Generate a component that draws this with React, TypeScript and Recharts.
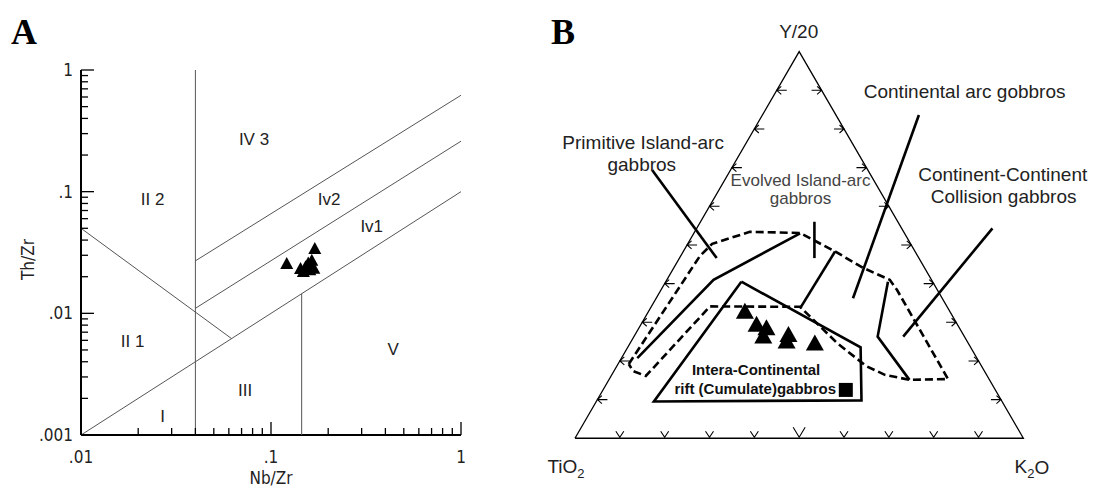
import React from "react";
import { ScatterChart, Scatter, XAxis, YAxis } from "recharts";

type Pt = { x: number; y: number };
type Tag = { x: number; y: number; text: string };

const SANS = "'Liberation Sans', Arial, Helvetica, sans-serif";
const NARROW = "'Liberation Sans Narrow', 'Arial Narrow', 'DejaVu Sans Condensed', 'Liberation Sans', sans-serif";
const SERIF = "'Liberation Serif', 'Times New Roman', serif";

// ---------- Panel A: Th/Zr vs Nb/Zr (log-log) ----------
const nbZrTicks = [
    0.01, 0.02, 0.03, 0.04, 0.05, 0.06, 0.07, 0.08, 0.09,
    0.1, 0.2, 0.3, 0.4, 0.5, 0.6, 0.7, 0.8, 0.9, 1,
];
const thZrTicks = [
    0.001, 0.002, 0.003, 0.004, 0.005, 0.006, 0.007, 0.008, 0.009,
    0.01, 0.02, 0.03, 0.04, 0.05, 0.06, 0.07, 0.08, 0.09,
    0.1, 0.2, 0.3, 0.4, 0.5, 0.6, 0.7, 0.8, 0.9, 1,
];
const decadeText: Record<string, string> = { "0.001": ".001", "0.01": ".01", "0.1": ".1", "1": "1" };

const boundLow: Pt[] = [{ x: 0.01, y: 0.001 }, { x: 1, y: 0.1 }];
const boundMid: Pt[] = [{ x: 0.04, y: 0.011 }, { x: 1, y: 0.26 }];
const boundHigh: Pt[] = [{ x: 0.04, y: 0.027 }, { x: 1, y: 0.62 }];
const boundVertLeft: Pt[] = [{ x: 0.04, y: 0.001 }, { x: 0.04, y: 1 }];
const boundVertRight: Pt[] = [{ x: 0.145, y: 0.001 }, { x: 0.145, y: 0.0145 }];
const boundSlant: Pt[] = [{ x: 0.01, y: 0.05 }, { x: 0.062, y: 0.0062 }];

const samplesA: Pt[] = [
    { x: 0.121, y: 0.025 },
    { x: 0.143, y: 0.0227 },
    { x: 0.148, y: 0.0215 },
    { x: 0.152, y: 0.0235 },
    { x: 0.157, y: 0.0252 },
    { x: 0.16, y: 0.0222 },
    { x: 0.164, y: 0.0265 },
    { x: 0.168, y: 0.0228 },
    { x: 0.17, y: 0.0332 },
];

const fieldsA: Tag[] = [
    { x: 0.0814, y: 0.266, text: "IV 3" },
    { x: 0.0238, y: 0.0865, text: "II 2" },
    { x: 0.202, y: 0.0855, text: "Iv2" },
    { x: 0.339, y: 0.0515, text: "Iv1" },
    { x: 0.0187, y: 0.00585, text: "II 1" },
    { x: 0.44, y: 0.005, text: "V" },
    { x: 0.073, y: 0.00234, text: "III" },
    { x: 0.0269, y: 0.00141, text: "I" },
];

// ---------- Panel B: TiO2 - Y/20 - K2O ternary (plane coords, triangle 0..100) ----------
const triangleB: Pt[] = [{ x: 0, y: 0 }, { x: 100, y: 0 }, { x: 50, y: 100 }, { x: 0, y: 0 }];

const edgeLeftB: Pt[] = [
    { x: 5, y: 10 }, { x: 10, y: 20 }, { x: 15, y: 30 }, { x: 20, y: 40 }, { x: 25, y: 50 },
    { x: 30, y: 60 }, { x: 35, y: 70 }, { x: 40, y: 80 }, { x: 45, y: 90 },
];
const edgeRightB: Pt[] = [
    { x: 95, y: 10 }, { x: 90, y: 20 }, { x: 85, y: 30 }, { x: 80, y: 40 }, { x: 75, y: 50 },
    { x: 70, y: 60 }, { x: 65, y: 70 }, { x: 60, y: 80 }, { x: 55, y: 90 },
];
const edgeBaseB: Pt[] = [
    { x: 10, y: 0 }, { x: 20, y: 0 }, { x: 30, y: 0 }, { x: 40, y: 0 }, { x: 50, y: 0 },
    { x: 60, y: 0 }, { x: 70, y: 0 }, { x: 80, y: 0 }, { x: 90, y: 0 },
];

const arcFieldDashed: Pt[] = [
    { x: 12.0, y: 19.2 }, { x: 27.9, y: 47.2 }, { x: 30.6, y: 50.3 }, { x: 39.0, y: 53.4 },
    { x: 50.2, y: 53.1 }, { x: 58.2, y: 48.2 }, { x: 64.2, y: 44.1 }, { x: 70.2, y: 41.0 },
    { x: 71.8, y: 38.4 }, { x: 83.2, y: 15.3 }, { x: 74.7, y: 15.1 }, { x: 69.1, y: 16.4 },
    { x: 64.9, y: 18.7 }, { x: 58.4, y: 24.7 }, { x: 50.2, y: 34.0 }, { x: 30.1, y: 34.1 },
    { x: 15.8, y: 16.1 }, { x: 12.9, y: 17.4 }, { x: 12.0, y: 19.2 },
];
const primitiveSolid: Pt[] = [{ x: 13.9, y: 20.7 }, { x: 30.9, y: 41.0 }, { x: 50.2, y: 53.0 }];
const evolvedBar: Pt[] = [{ x: 53.4, y: 56.0 }, { x: 53.4, y: 46.6 }];
const evolvedSplit: Pt[] = [{ x: 58.0, y: 48.3 }, { x: 50.2, y: 33.6 }];
const collisionSolid: Pt[] = [{ x: 69.8, y: 40.5 }, { x: 67.5, y: 26.3 }, { x: 74.6, y: 15.1 }];
const riftField: Pt[] = [
    { x: 37.1, y: 40.5 }, { x: 63.7, y: 23.5 }, { x: 63.9, y: 9.8 }, { x: 17.6, y: 9.5 }, { x: 37.1, y: 40.5 },
];
const pointerPrimitive: Pt[] = [{ x: 17.2, y: 69.4 }, { x: 31.6, y: 46.6 }];
const pointerContArc: Pt[] = [{ x: 76.7, y: 83.6 }, { x: 62.0, y: 36.2 }];
const pointerCollision: Pt[] = [{ x: 93.1, y: 54.3 }, { x: 73.2, y: 26.3 }];

const samplesB: Pt[] = [
    { x: 37.9, y: 32.3 },
    { x: 40.5, y: 28.9 },
    { x: 42.7, y: 28.0 },
    { x: 42.0, y: 25.9 },
    { x: 47.6, y: 26.3 },
    { x: 47.2, y: 24.6 },
    { x: 53.5, y: 24.1 },
];
const cumulateB: Pt[] = [{ x: 60.4, y: 12.5 }];

const fieldsB: Tag[] = [
    { x: 49.9, y: 105.1, text: "Y/20" },
    { x: 86.9, y: 89.6, text: "Continental arc gobbros" },
    { x: 15.2, y: 76.6, text: "Primitive Island-arc" },
    { x: 14.9, y: 70.7, text: "gabbros" },
    { x: 95.4, y: 68.2, text: "Continent-Continent" },
    { x: 95.6, y: 62.5, text: "Collision gabbros" },
];
const evolvedB: Tag[] = [
    { x: 50.3, y: 66.8, text: "Evolved Island-arc" },
    { x: 50.3, y: 62.1, text: "gabbros" },
];
const riftB: Tag[] = [
    { x: 40.4, y: 17.7, text: "Intera-Continental" },
    { x: 40.2, y: 12.9, text: "rift (Cumulate)gabbros" },
];
const oxidesB = [
    { x: -2.0, y: -7.4, head: "TiO", sub: "2", tail: "" },
    { x: 101.9, y: -7.4, head: "K", sub: "2", tail: "O" },
];

// ---------- shapes ----------
const noDot = () => <g />;

const triangleMark = (w: number, h: number) => (p: any) => (
    <polygon
        points={`${p.cx},${p.cy - (h * 2) / 3} ${p.cx - w / 2},${p.cy + h / 3} ${p.cx + w / 2},${p.cy + h / 3}`}
        fill="#000"
    />
);

const squareMark = (p: any) => <rect x={p.cx - 7} y={p.cy - 7} width={14} height={14} fill="#000" />;

const textMark = (size: number, weight: string, fill: string, family: string) => (p: any) => (
    <text
        x={p.cx}
        y={p.cy}
        textAnchor="middle"
        dominantBaseline="central"
        fontSize={size}
        fontWeight={weight}
        fontFamily={family}
        fill={fill}
    >
        {p.payload.text}
    </text>
);

const oxideMark = (p: any) => (
    <text x={p.cx} y={p.cy} textAnchor="middle" dominantBaseline="central" fontSize={19} fontFamily={SANS} fill="#222">
        {p.payload.head}
        <tspan dy={6} fontSize={13}>{p.payload.sub}</tspan>
        {p.payload.tail && <tspan dy={-6}>{p.payload.tail}</tspan>}
    </text>
);

// small arrow ticks along the ternary edges
const leftArrow = (p: any) => (
    <path
        d={`M${p.cx + 4.5},${p.cy - 4} L${p.cx},${p.cy} L${p.cx + 4.5},${p.cy + 4} M${p.cx},${p.cy} L${p.cx + 10},${p.cy}`}
        stroke="#000"
        strokeWidth={1.1}
        fill="none"
    />
);
const rightArrow = (p: any) => (
    <path
        d={`M${p.cx - 4.5},${p.cy - 4} L${p.cx},${p.cy} L${p.cx - 4.5},${p.cy + 4} M${p.cx},${p.cy} L${p.cx - 10},${p.cy}`}
        stroke="#000"
        strokeWidth={1.1}
        fill="none"
    />
);
const baseArrow = (p: any) => {
    const big = p.payload.x === 50;
    const w = big ? 6 : 4;
    const h = big ? 10 : 6;
    return (
        <path
            d={`M${p.cx - w},${p.cy - h - 1} L${p.cx},${p.cy - 1} L${p.cx + w},${p.cy - h - 1}`}
            stroke="#000"
            strokeWidth={1.1}
            fill="none"
        />
    );
};

// ---------- log axis ticks (inward) ----------
const tickLen = (v: number) => (decadeText[String(v)] ? 13 : 7);

function TickLeft(props: any) {
    const { x, y, payload } = props;
    const lab = decadeText[String(payload.value)];
    return (
        <g>
            <line x1={x} x2={x + tickLen(payload.value)} y1={y} y2={y} stroke="#000" strokeWidth={1.3} />
            {lab && (
                <text x={x - 8} y={y} textAnchor="end" dominantBaseline="central" fontSize={17} fontFamily={NARROW} fill="#222">
                    {lab}
                </text>
            )}
        </g>
    );
}
function TickRight(props: any) {
    const { x, y, payload } = props;
    return <line x1={x} x2={x - tickLen(payload.value)} y1={y} y2={y} stroke="#000" strokeWidth={1.3} />;
}
function TickBottom(props: any) {
    const { x, y, payload } = props;
    const lab = decadeText[String(payload.value)];
    return (
        <g>
            <line x1={x} x2={x} y1={y} y2={y - tickLen(payload.value)} stroke="#000" strokeWidth={1.3} />
            {lab && (
                <text x={x} y={y + 22} textAnchor="middle" dominantBaseline="central" fontSize={17} fontFamily={NARROW} fill="#222">
                    {lab}
                </text>
            )}
        </g>
    );
}
function TickTop(props: any) {
    const { x, y, payload } = props;
    return <line x1={x} x2={x} y1={y} y2={y + tickLen(payload.value)} stroke="#000" strokeWidth={1.3} />;
}

const frame = { stroke: "#000", strokeWidth: 2 };
const thinA = { stroke: "#555", strokeWidth: 1 };
const solidB = { stroke: "#000", strokeWidth: 2.6 };
const dashedB = { stroke: "#000", strokeWidth: 2.6, strokeDasharray: "8 4" };

function PanelA() {
    return (
        <ScatterChart width={480} height={488} margin={{ top: 70, right: 19, left: 0, bottom: 0 }}>
            <XAxis
                xAxisId={0}
                dataKey="x"
                type="number"
                scale="log"
                domain={[0.01, 1]}
                ticks={nbZrTicks}
                height={53}
                tickSize={0}
                tickMargin={0}
                tickLine={false}
                axisLine={frame}
                tick={<TickBottom />}
                interval={0}
                label={{ value: "Nb/Zr", position: "insideBottom", offset: 4, fontSize: 17, fontFamily: NARROW, fill: "#222" }}
            />
            <XAxis
                xAxisId="top"
                orientation="top"
                type="number"
                scale="log"
                domain={[0.01, 1]}
                ticks={nbZrTicks}
                height={0}
                tickSize={0}
                tickMargin={0}
                tickLine={false}
                axisLine={frame}
                tick={<TickTop />}
                interval={0}
            />
            <YAxis
                yAxisId={0}
                dataKey="y"
                type="number"
                scale="log"
                domain={[0.001, 1]}
                ticks={thZrTicks}
                width={81}
                tickSize={0}
                tickMargin={0}
                tickLine={false}
                axisLine={frame}
                tick={<TickLeft />}
                interval={0}
                label={{
                    content: (p: any) => {
                        const vb = p.viewBox;
                        return (
                            <text
                                transform={`translate(${vb.x + 28}, ${vb.y + vb.height / 2 + 7}) rotate(-90)`}
                                textAnchor="middle"
                                dominantBaseline="central"
                                fontSize={17}
                                fontFamily={NARROW}
                                fill="#222"
                            >
                                Th/Zr
                            </text>
                        );
                    },
                }}
            />
            <YAxis
                yAxisId="right"
                orientation="right"
                type="number"
                scale="log"
                domain={[0.001, 1]}
                ticks={thZrTicks}
                width={0}
                tickSize={0}
                tickMargin={0}
                tickLine={false}
                axisLine={frame}
                tick={<TickRight />}
                interval={0}
            />
            <Scatter data={boundLow} line={thinA} shape={noDot} isAnimationActive={false} />
            <Scatter data={boundMid} line={thinA} shape={noDot} isAnimationActive={false} />
            <Scatter data={boundHigh} line={thinA} shape={noDot} isAnimationActive={false} />
            <Scatter data={boundVertLeft} line={thinA} shape={noDot} isAnimationActive={false} />
            <Scatter data={boundVertRight} line={thinA} shape={noDot} isAnimationActive={false} />
            <Scatter data={boundSlant} line={thinA} shape={noDot} isAnimationActive={false} />
            <Scatter data={fieldsA} shape={textMark(17, "normal", "#222", SANS)} isAnimationActive={false} />
            <Scatter data={samplesA} shape={triangleMark(13, 12)} isAnimationActive={false} />
        </ScatterChart>
    );
}

function PanelB() {
    return (
        <ScatterChart width={566} height={488} margin={{ top: 13, right: 27.8, left: 0.15, bottom: 11.1 }}>
            <XAxis dataKey="x" type="number" domain={[-10, 110]} hide />
            <YAxis dataKey="y" type="number" domain={[-10, 110]} hide />
            <Scatter data={triangleB} line={{ stroke: "#000", strokeWidth: 1.3 }} shape={noDot} isAnimationActive={false} />
            <Scatter data={edgeLeftB} shape={leftArrow} isAnimationActive={false} />
            <Scatter data={edgeRightB} shape={rightArrow} isAnimationActive={false} />
            <Scatter data={edgeBaseB} shape={baseArrow} isAnimationActive={false} />
            <Scatter data={arcFieldDashed} line={dashedB} shape={noDot} isAnimationActive={false} />
            <Scatter data={primitiveSolid} line={solidB} shape={noDot} isAnimationActive={false} />
            <Scatter data={evolvedBar} line={solidB} shape={noDot} isAnimationActive={false} />
            <Scatter data={evolvedSplit} line={solidB} shape={noDot} isAnimationActive={false} />
            <Scatter data={collisionSolid} line={solidB} shape={noDot} isAnimationActive={false} />
            <Scatter data={riftField} line={solidB} shape={noDot} isAnimationActive={false} />
            <Scatter data={pointerPrimitive} line={solidB} shape={noDot} isAnimationActive={false} />
            <Scatter data={pointerContArc} line={solidB} shape={noDot} isAnimationActive={false} />
            <Scatter data={pointerCollision} line={solidB} shape={noDot} isAnimationActive={false} />
            <Scatter data={samplesB} shape={triangleMark(18, 16)} isAnimationActive={false} />
            <Scatter data={cumulateB} shape={squareMark} isAnimationActive={false} />
            <Scatter data={fieldsB} shape={textMark(19, "normal", "#222", SANS)} isAnimationActive={false} />
            <Scatter data={evolvedB} shape={textMark(17, "normal", "#444", SANS)} isAnimationActive={false} />
            <Scatter data={riftB} shape={textMark(15, "bold", "#111", SANS)} isAnimationActive={false} />
            <Scatter data={oxidesB} shape={oxideMark} isAnimationActive={false} />
        </ScatterChart>
    );
}

export default function App() {
    return (
        <div style={{ position: "absolute", left: 0, top: 0, width: 1096, height: 488, background: "#fff", overflow: "hidden" }}>
            <div style={{ position: "absolute", left: 0, top: 0 }}>
                <PanelA />
            </div>
            <div style={{ position: "absolute", left: 530, top: 0 }}>
                <PanelB />
            </div>
            <div style={{ position: "absolute", left: 11, top: 10, font: `bold 36px ${SERIF}`, lineHeight: "44px" }}>A</div>
            <div style={{ position: "absolute", left: 551, top: 10, font: `bold 36px ${SERIF}`, lineHeight: "44px" }}>B</div>
        </div>
    );
}
